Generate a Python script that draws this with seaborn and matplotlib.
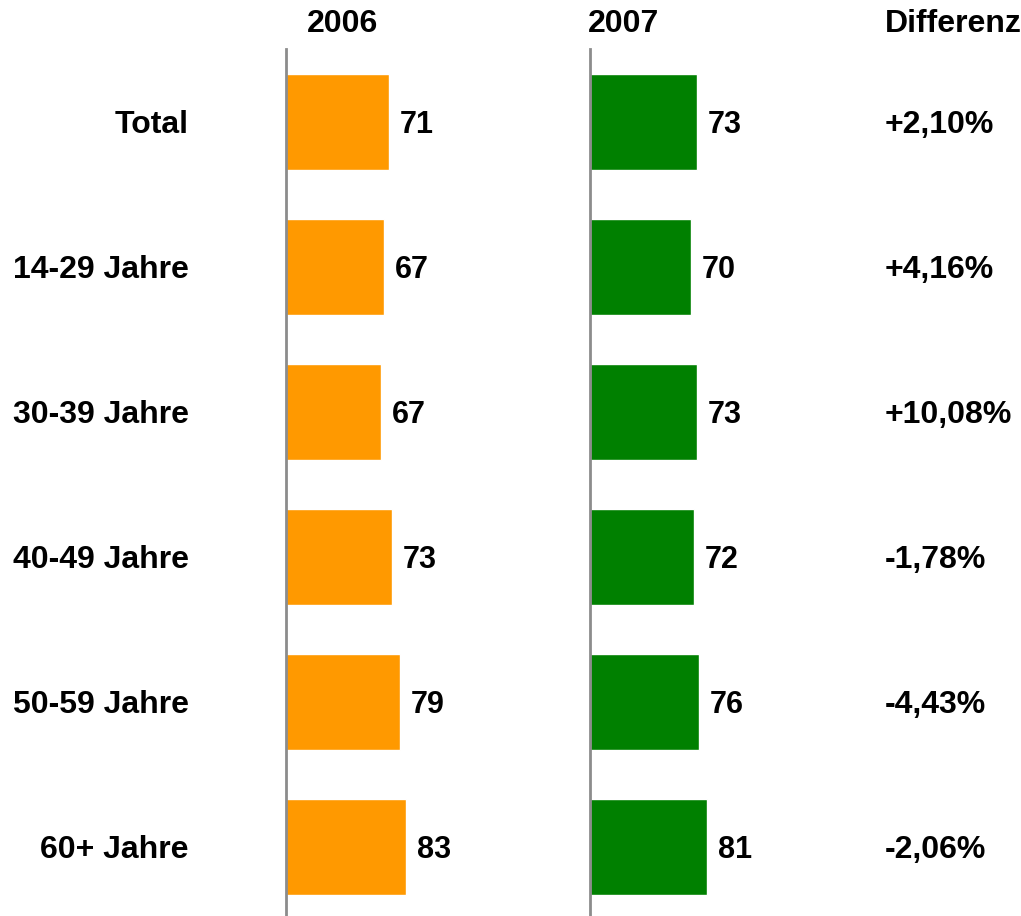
import matplotlib
matplotlib.use('Agg')
import matplotlib.pyplot as plt
import matplotlib.transforms as mtransforms
import seaborn as sns
import pandas as pd

# values (bar lengths), printed labels kept apart
groups = ['Total', '14-29 Jahre', '30-39 Jahre', '40-49 Jahre', '50-59 Jahre', '60+ Jahre']
vals_2006 = [71.0, 67.6, 65.5, 73.1, 78.6, 82.8]
vals_2007 = [73.8, 69.7, 73.8, 71.7, 75.2, 80.7]
labels_2006 = ['71', '67', '67', '73', '79', '83']
labels_2007 = ['73', '70', '73', '72', '76', '81']
diffs = ['+2,10%', '+4,16%', '+10,08%', '-1,78%', '-4,43%', '-2,06%']

sns.set_style('white')
plt.rcParams['font.family'] = ['Liberation Sans', 'DejaVu Sans']
plt.rcParams['text.color'] = 'black'
plt.rcParams['ytick.color'] = 'black'

df = pd.DataFrame({'group': groups, '2006': vals_2006, '2007': vals_2007})

W, H = 1021, 916
fig = plt.figure(figsize=(W / 100, H / 100), dpi=100)

def px(x0, y_top, w, h):
    return [x0 / W, 1 - (y_top + h) / H, w / W, h / H]

ax1 = fig.add_axes(px(286, 49.5, 145, 870))
ax2 = fig.add_axes(px(590, 49.5, 145, 870))

for ax, col, color, labs in [(ax1, '2006', '#FF9900', labels_2006),
                             (ax2, '2007', '#008000', labels_2007)]:
    sns.barplot(data=df, y='group', x=col, orient='h', color=color,
                width=0.66, saturation=1, ax=ax)
    texts = ax.bar_label(ax.containers[0], labels=labs, padding=8,
                         fontsize=22, fontweight='bold', color='black')
    for t in texts:
        t.set_va('center_baseline')
    ax.set_xlim(0, 100)
    ax.set_ylim(5.5, -0.5)
    ax.set_xlabel('')
    ax.set_ylabel('')
    ax.set_xticks([])
    for s in ['top', 'right', 'bottom']:
        ax.spines[s].set_visible(False)
    ax.spines['left'].set_color('#8c8c8c')
    ax.spines['left'].set_linewidth(2)
    ax.patch.set_alpha(0)

ax1.tick_params(axis='y', length=0, pad=70, labelsize=23, labelcolor='black')
for t in ax1.get_yticklabels():
    t.set_fontweight('bold')
ax2.set_yticks([])

trans = mtransforms.blended_transform_factory(fig.transFigure, ax2.transData)
for i, d in enumerate(diffs):
    ax2.text(885 / W, i, d, transform=trans, ha='left', va='center_baseline',
             fontsize=23, fontweight='bold', clip_on=False)

fig.text(307 / W, 1 - 24 / H, '2006', ha='left', va='center', fontsize=23, fontweight='bold')
fig.text(588 / W, 1 - 24 / H, '2007', ha='left', va='center', fontsize=23, fontweight='bold')
fig.text(885 / W, 1 - 24 / H, 'Differenz', ha='left', va='center', fontsize=23, fontweight='bold')

fig.savefig('out.png', dpi=100)
